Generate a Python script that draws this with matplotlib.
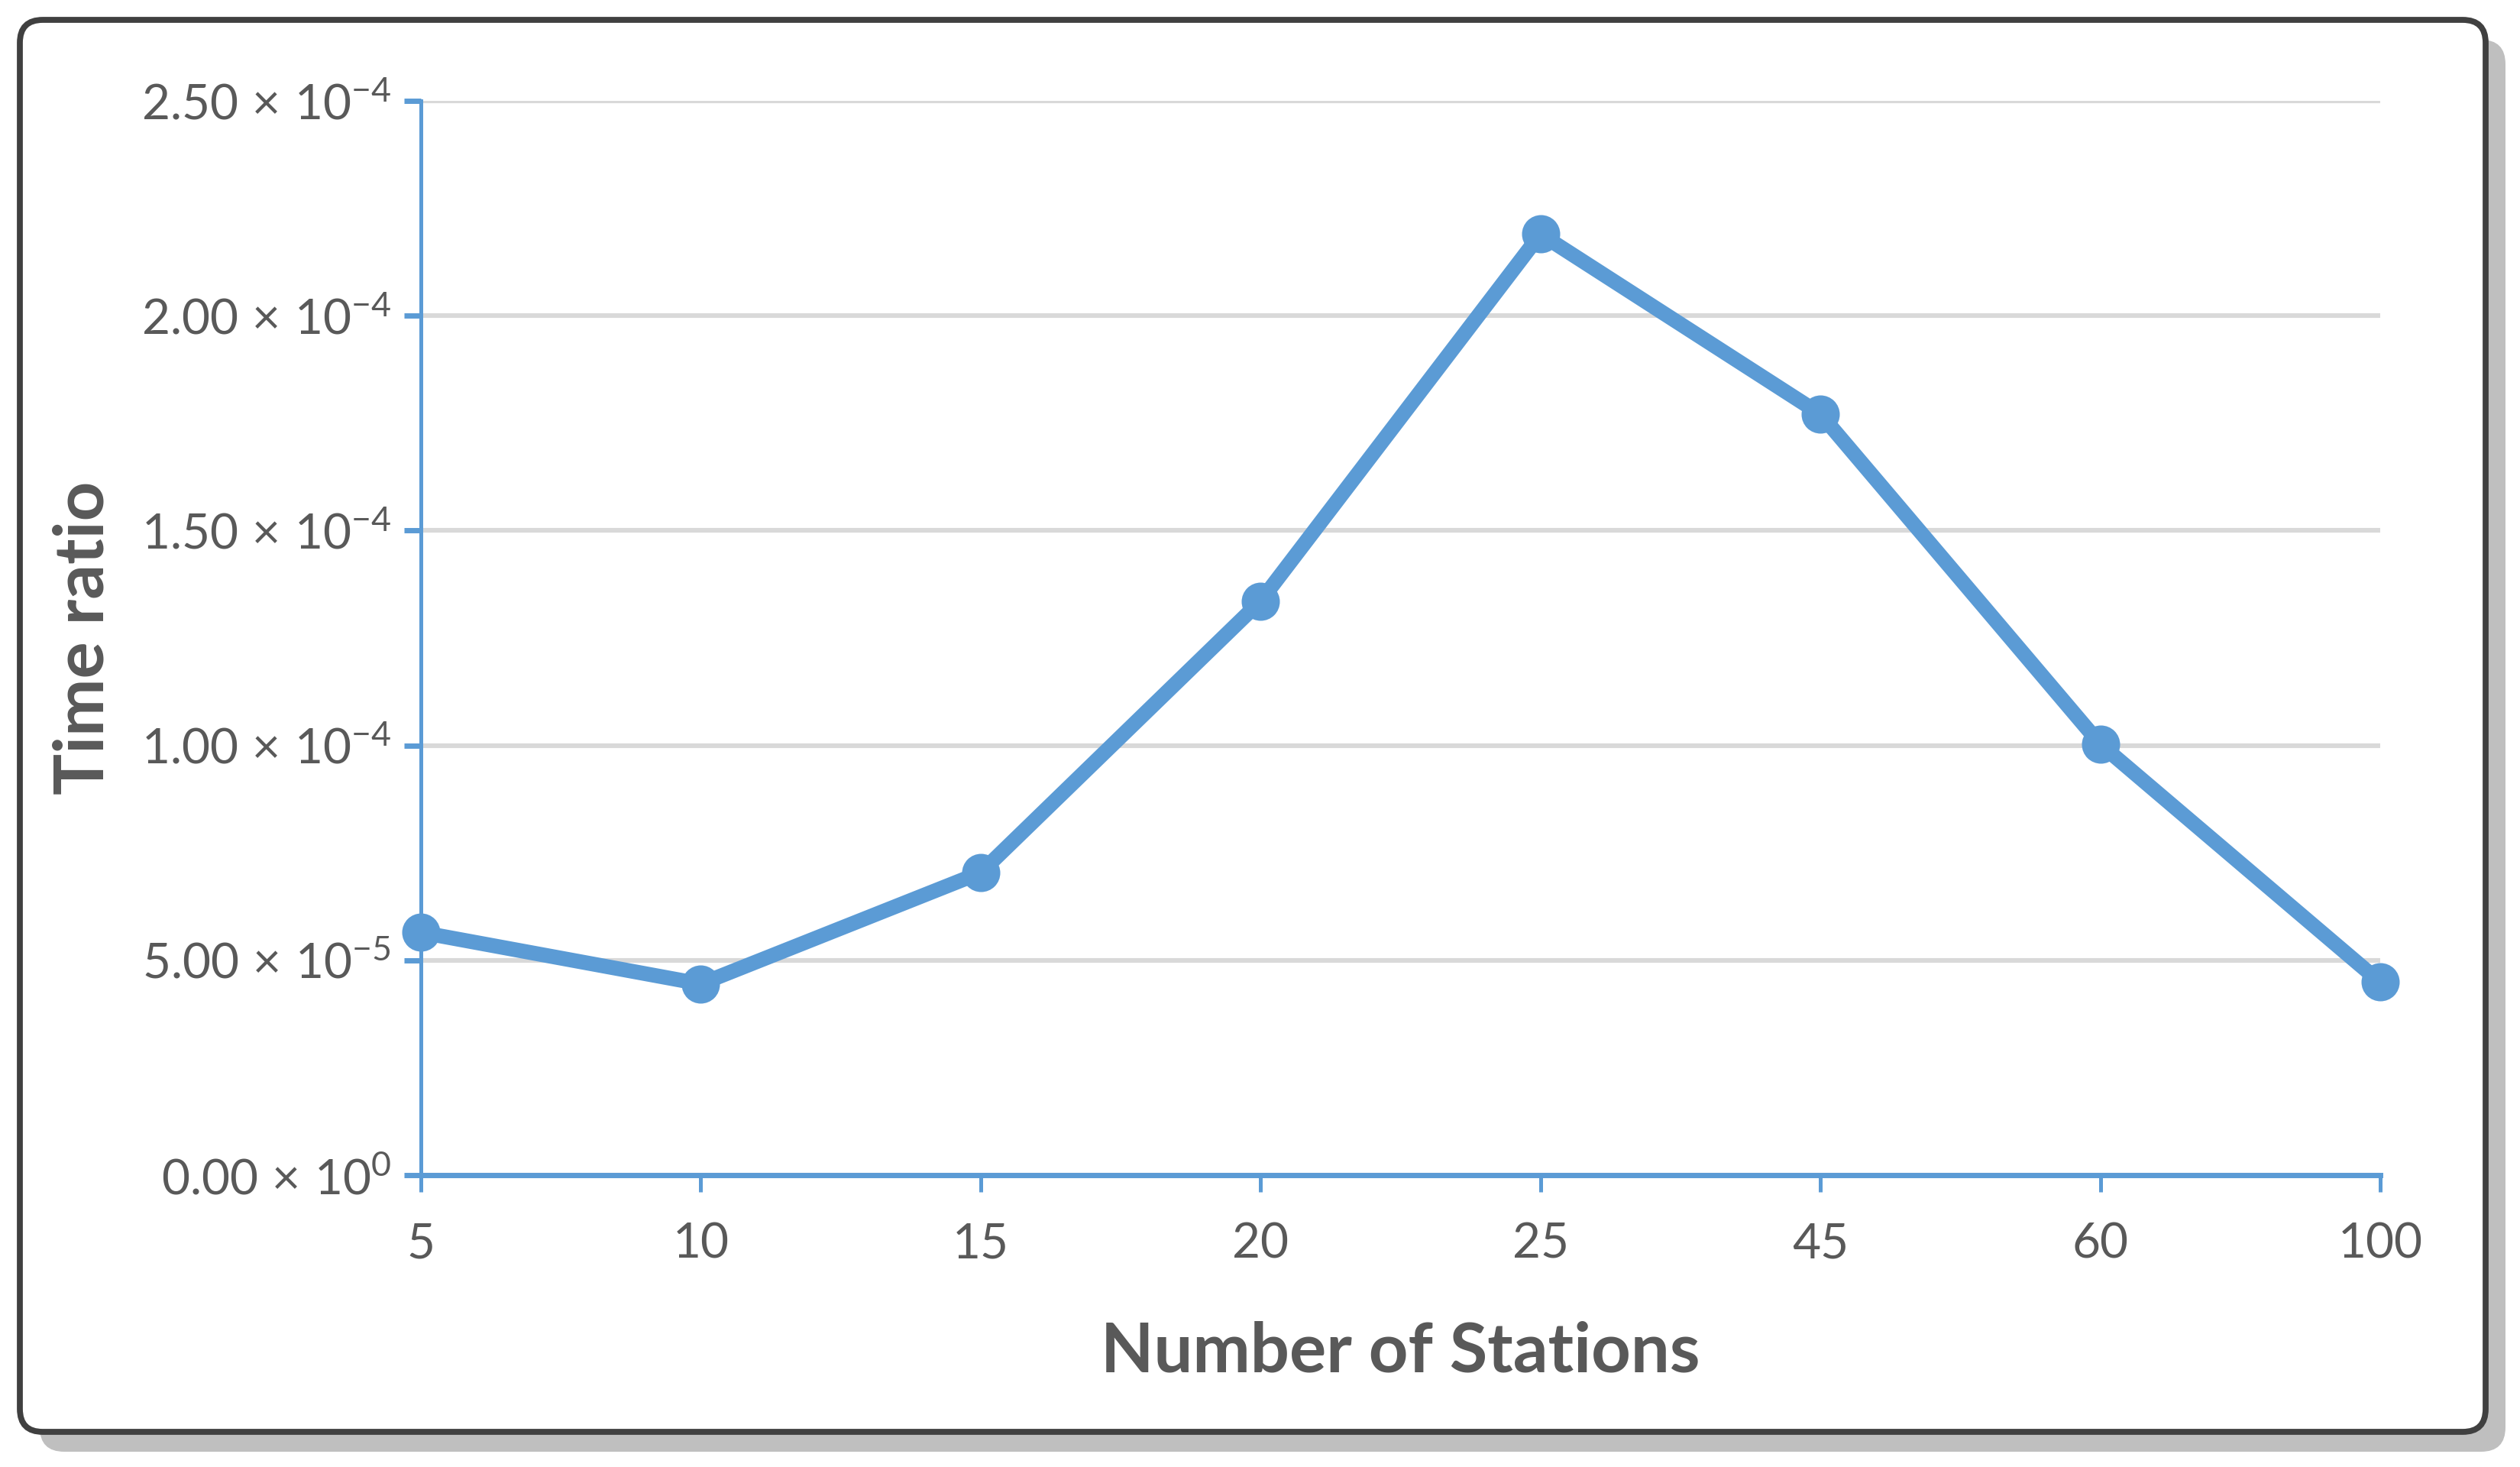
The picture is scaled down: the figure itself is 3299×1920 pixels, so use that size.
import numpy as np
import matplotlib
matplotlib.use("Agg")
import matplotlib.pyplot as plt
from matplotlib.patches import FancyBboxPatch
from matplotlib.transforms import IdentityTransform
from matplotlib.ticker import FuncFormatter

# data
stations = ["5", "10", "15", "20", "25", "45", "60", "100"]
time_ratio = [5.65e-5, 4.45e-5, 7.04e-5, 1.336e-4, 2.19e-4, 1.771e-4, 1.003e-4, 4.49e-5]
y_ticks = [0, 5e-5, 1e-4, 1.5e-4, 2e-4, 2.5e-4]

blue = "#5B9BD5"
text_grey = "#595959"

plt.rcParams['font.family'] = ['Lato', 'DejaVu Sans']
plt.rcParams['mathtext.fontset'] = 'custom'
plt.rcParams['mathtext.rm'] = 'Lato'
plt.rcParams['mathtext.it'] = 'Lato:italic'
plt.rcParams['mathtext.bf'] = 'Lato:bold'


def sci(v, pos):
    if v == 0:
        return r"$0.00\,\times\,10^{0}$"
    e = int(np.floor(np.log10(v) + 1e-9))
    m = v / 10**e
    return r"$%.2f\,\times\,10^{%d}$" % (m, e)


DPI = 200
fig = plt.figure(figsize=(3299 / DPI, 1920 / DPI), dpi=DPI)

# rounded frame with drop shadow (pixel coordinates)
shadow = FancyBboxPatch((52, 20), 3228, 1848, boxstyle="round,pad=0,rounding_size=32",
                        transform=IdentityTransform(), facecolor="#BFBFBF",
                        edgecolor="none", zorder=-2)
frame = FancyBboxPatch((26, 46), 3228, 1848, boxstyle="round,pad=0,rounding_size=30",
                       transform=IdentityTransform(), facecolor="white",
                       edgecolor="#404040", linewidth=2.8, zorder=-1)
fig.patches.extend([shadow, frame])

ax = fig.add_axes([551 / 3299, 1 - 1538 / 1920, (3116 - 551) / 3299, (1538 - 132) / 1920])
ax.set_facecolor("none")

x = np.arange(len(stations))
ax.plot(x, time_ratio, color=blue, linewidth=7.0, marker="o", markersize=17,
        clip_on=False, zorder=5, solid_joinstyle="round")

ax.set_xlim(0, len(stations) - 1)
ax.set_ylim(0, 2.5e-4)
ax.set_xticks(x)
ax.set_xticklabels(stations)
ax.set_yticks(y_ticks)
ax.yaxis.set_major_formatter(FuncFormatter(sci))

ax.grid(axis="y", color="#D9D9D9", linewidth=2.2)
ax.set_axisbelow(True)

for side in ["top", "right"]:
    ax.spines[side].set_visible(False)
ax.spines["left"].set_color(blue)
ax.spines["left"].set_linewidth(1.8)
ax.spines["bottom"].set_color(blue)
ax.spines["bottom"].set_linewidth(2.5)

ax.tick_params(axis="x", direction="out", length=8, width=1.8, color=blue,
               labelsize=23, labelcolor=text_grey, pad=14)
ax.tick_params(axis="y", direction="out", length=8, width=2.5, color=blue,
               labelsize=23, labelcolor=text_grey, pad=6)

ax.set_xlabel("Number of Stations", fontsize=32.5, fontweight="bold", color=text_grey,
              va="center")
ax.xaxis.set_label_coords(0.5, -0.165)
ax.set_ylabel("Time ratio", fontsize=32.5, fontweight="bold", color=text_grey,
              va="center")
ax.yaxis.set_label_coords(-0.172, 0.5)

fig.savefig("out.png", dpi=DPI)
